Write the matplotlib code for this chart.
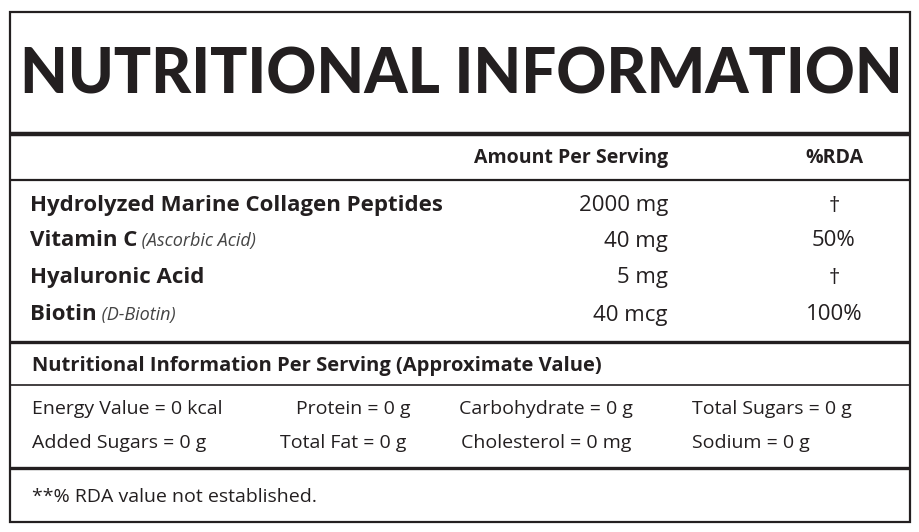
import matplotlib
matplotlib.use("Agg")
import matplotlib.pyplot as plt

title = "NUTRITIONAL INFORMATION"
col_headers = ["Amount Per Serving", "%RDA"]
nutrients = ["Hydrolyzed Marine Collagen Peptides", "Vitamin C", "Hyaluronic Acid", "Biotin"]
subnames = ["", "(Ascorbic Acid)", "", "(D-Biotin)"]
amounts = ["2000 mg", "40 mg", "5 mg", "40 mcg"]
rda = ["†", "50%", "†", "100%"]
section2 = "Nutritional Information Per Serving (Approximate Value)"
row1 = ["Energy Value = 0 kcal", "Protein = 0 g", "Carbohydrate = 0 g", "Total Sugars = 0 g"]
row2 = ["Added Sugars = 0 g", "Total Fat = 0 g", "Cholesterol = 0 mg", "Sodium = 0 g"]
footnote = "**% RDA value not established."

plt.rcParams['font.family'] = ['Open Sans', 'DejaVu Sans']
fig = plt.figure(figsize=(9.2, 5.32), dpi=100)
ax = fig.add_axes([0, 0, 1, 1])
ax.set_xlim(0, 920); ax.set_ylim(532, 0); ax.axis('off')
c = '#231f20'
ax.add_patch(plt.Rectangle((10, 12), 900, 510, fill=False, lw=1.6, ec=c))
for y, lw in [(134, 3.2), (180, 1.6), (342, 2.4), (385, 1.2), (468, 2.4)]:
    ax.plot([10, 910], [y, y], color=c, lw=lw, solid_capstyle='butt')
ax.text(461, 75, title, ha='center', va='center', fontsize=44.5, fontweight='black',
        family=['Lato', 'DejaVu Sans'], color=c)
ax.text(668, 158, col_headers[0], ha='right', va='center', fontsize=14, fontweight='bold', color=c)
ax.text(834, 158, col_headers[1], ha='center', va='center', fontsize=14, fontweight='bold', color=c)
ys = [206, 241, 278, 315]
for i, y in enumerate(ys):
    t = ax.text(30, y, nutrients[i], ha='left', va='center', fontsize=16, fontweight='bold', color=c)
    if subnames[i]:
        ax.annotate(" " + subnames[i], xycoords=t, xy=(1, 0.5), va='center', ha='left',
                    fontsize=13, style='italic', color='#444444')
    ax.text(668, y, amounts[i], ha='right', va='center', fontsize=16, color=c)
    ax.text(834, y, rda[i], ha='center', va='center', fontsize=16, color=c)
ax.text(32, 366, section2, ha='left', va='center', fontsize=14.5, fontweight='bold', color=c)
xs1 = [32, 296, 459, 692]
xs2 = [32, 280, 461, 692]
for j in range(4):
    ax.text(xs1[j], 409, row1[j], ha='left', va='center', fontsize=14, color=c)
    ax.text(xs2[j], 443, row2[j], ha='left', va='center', fontsize=14, color=c)
ax.text(32, 497, footnote, ha='left', va='center', fontsize=14, color=c)
fig.savefig("out.png", dpi=100)
